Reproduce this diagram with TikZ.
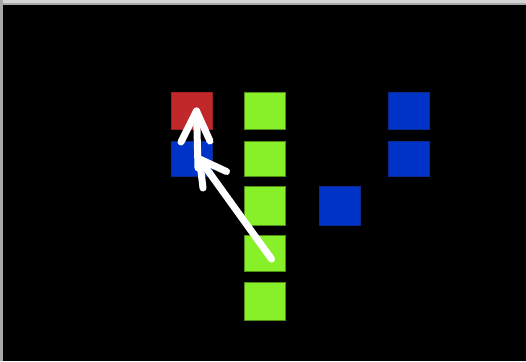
\documentclass[tikz,border=0pt]{standalone}
\usetikzlibrary{calc}
\definecolor{sqred}{HTML}{C0282A}
\definecolor{sqblue}{HTML}{0033C8}
\definecolor{sqblueb}{HTML}{0A2A90}
\definecolor{sqgreen}{HTML}{88F028}
\definecolor{sqgreenb}{HTML}{4F8F18}
\definecolor{frameA}{HTML}{D4D4D4}
\definecolor{frameB}{HTML}{A8A8A8}
\tikzset{
  sq/.style={rectangle, inner sep=0pt, minimum width=41pt, line width=0.8pt},
  redsq/.style={sq, fill=sqred, draw=sqred!80!black},
  bluesq/.style={sq, fill=sqblue, draw=sqblueb},
  greensq/.style={sq, fill=sqgreen, draw=sqgreenb},
  wharrow/.style={draw=white, line width=7pt, line cap=round, line join=round}
}
\begin{document}
\begin{tikzpicture}[x=1pt,y=-1pt]
\fill[frameA] (0,0) rectangle (526,361);
\fill[frameB] (0,3) rectangle (526,5);
\fill[frameB] (0,0) rectangle (3,361);
\fill[black] (3,5) rectangle (526,361);
\useasboundingbox (0,0) rectangle (526,361);
% left column
\node[redsq, minimum height=37.5pt] (r1) at (191.5,110.75) {};
\node[bluesq, minimum height=35pt] (b1) at (191.5,158.5) {};
% green column
\node[greensq, minimum height=37.5pt] (g1) at (264.75,110.75) {};
\node[greensq, minimum height=35pt] (g2) at (264.75,158.5) {};
\node[greensq, minimum height=39.5pt] (g3) at (264.75,206) {};
\node[greensq, minimum height=36pt] (g4) at (264.75,253.2) {};
\node[greensq, minimum height=38.5pt] (g5) at (264.75,301.5) {};
% middle blue
\node[bluesq, minimum height=39.5pt] (b2) at (339.5,206) {};
% right blue column
\node[bluesq, minimum height=37.5pt] (b3) at (408.5,111) {};
\node[bluesq, minimum height=35pt] (b4) at (408.5,158.5) {};
% arrows
\coordinate (vtail) at (198,168);
\coordinate (vtip) at (196.5,111);
\coordinate (vwl) at (181,142);
\coordinate (vwr) at (210,141);
\coordinate (dtail) at (271.5,259);
\coordinate (dtip) at (199.5,159);
\coordinate (dwa) at (226.5,171.5);
\coordinate (dwb) at (203,188);
\draw[wharrow] (vtail) -- (vtip);
\draw[wharrow] (vwl) -- (vtip) -- (vwr);
\draw[wharrow] (dtail) -- (dtip);
\draw[wharrow] (dwa) -- (dtip) -- (dwb);
\end{tikzpicture}
\end{document}
